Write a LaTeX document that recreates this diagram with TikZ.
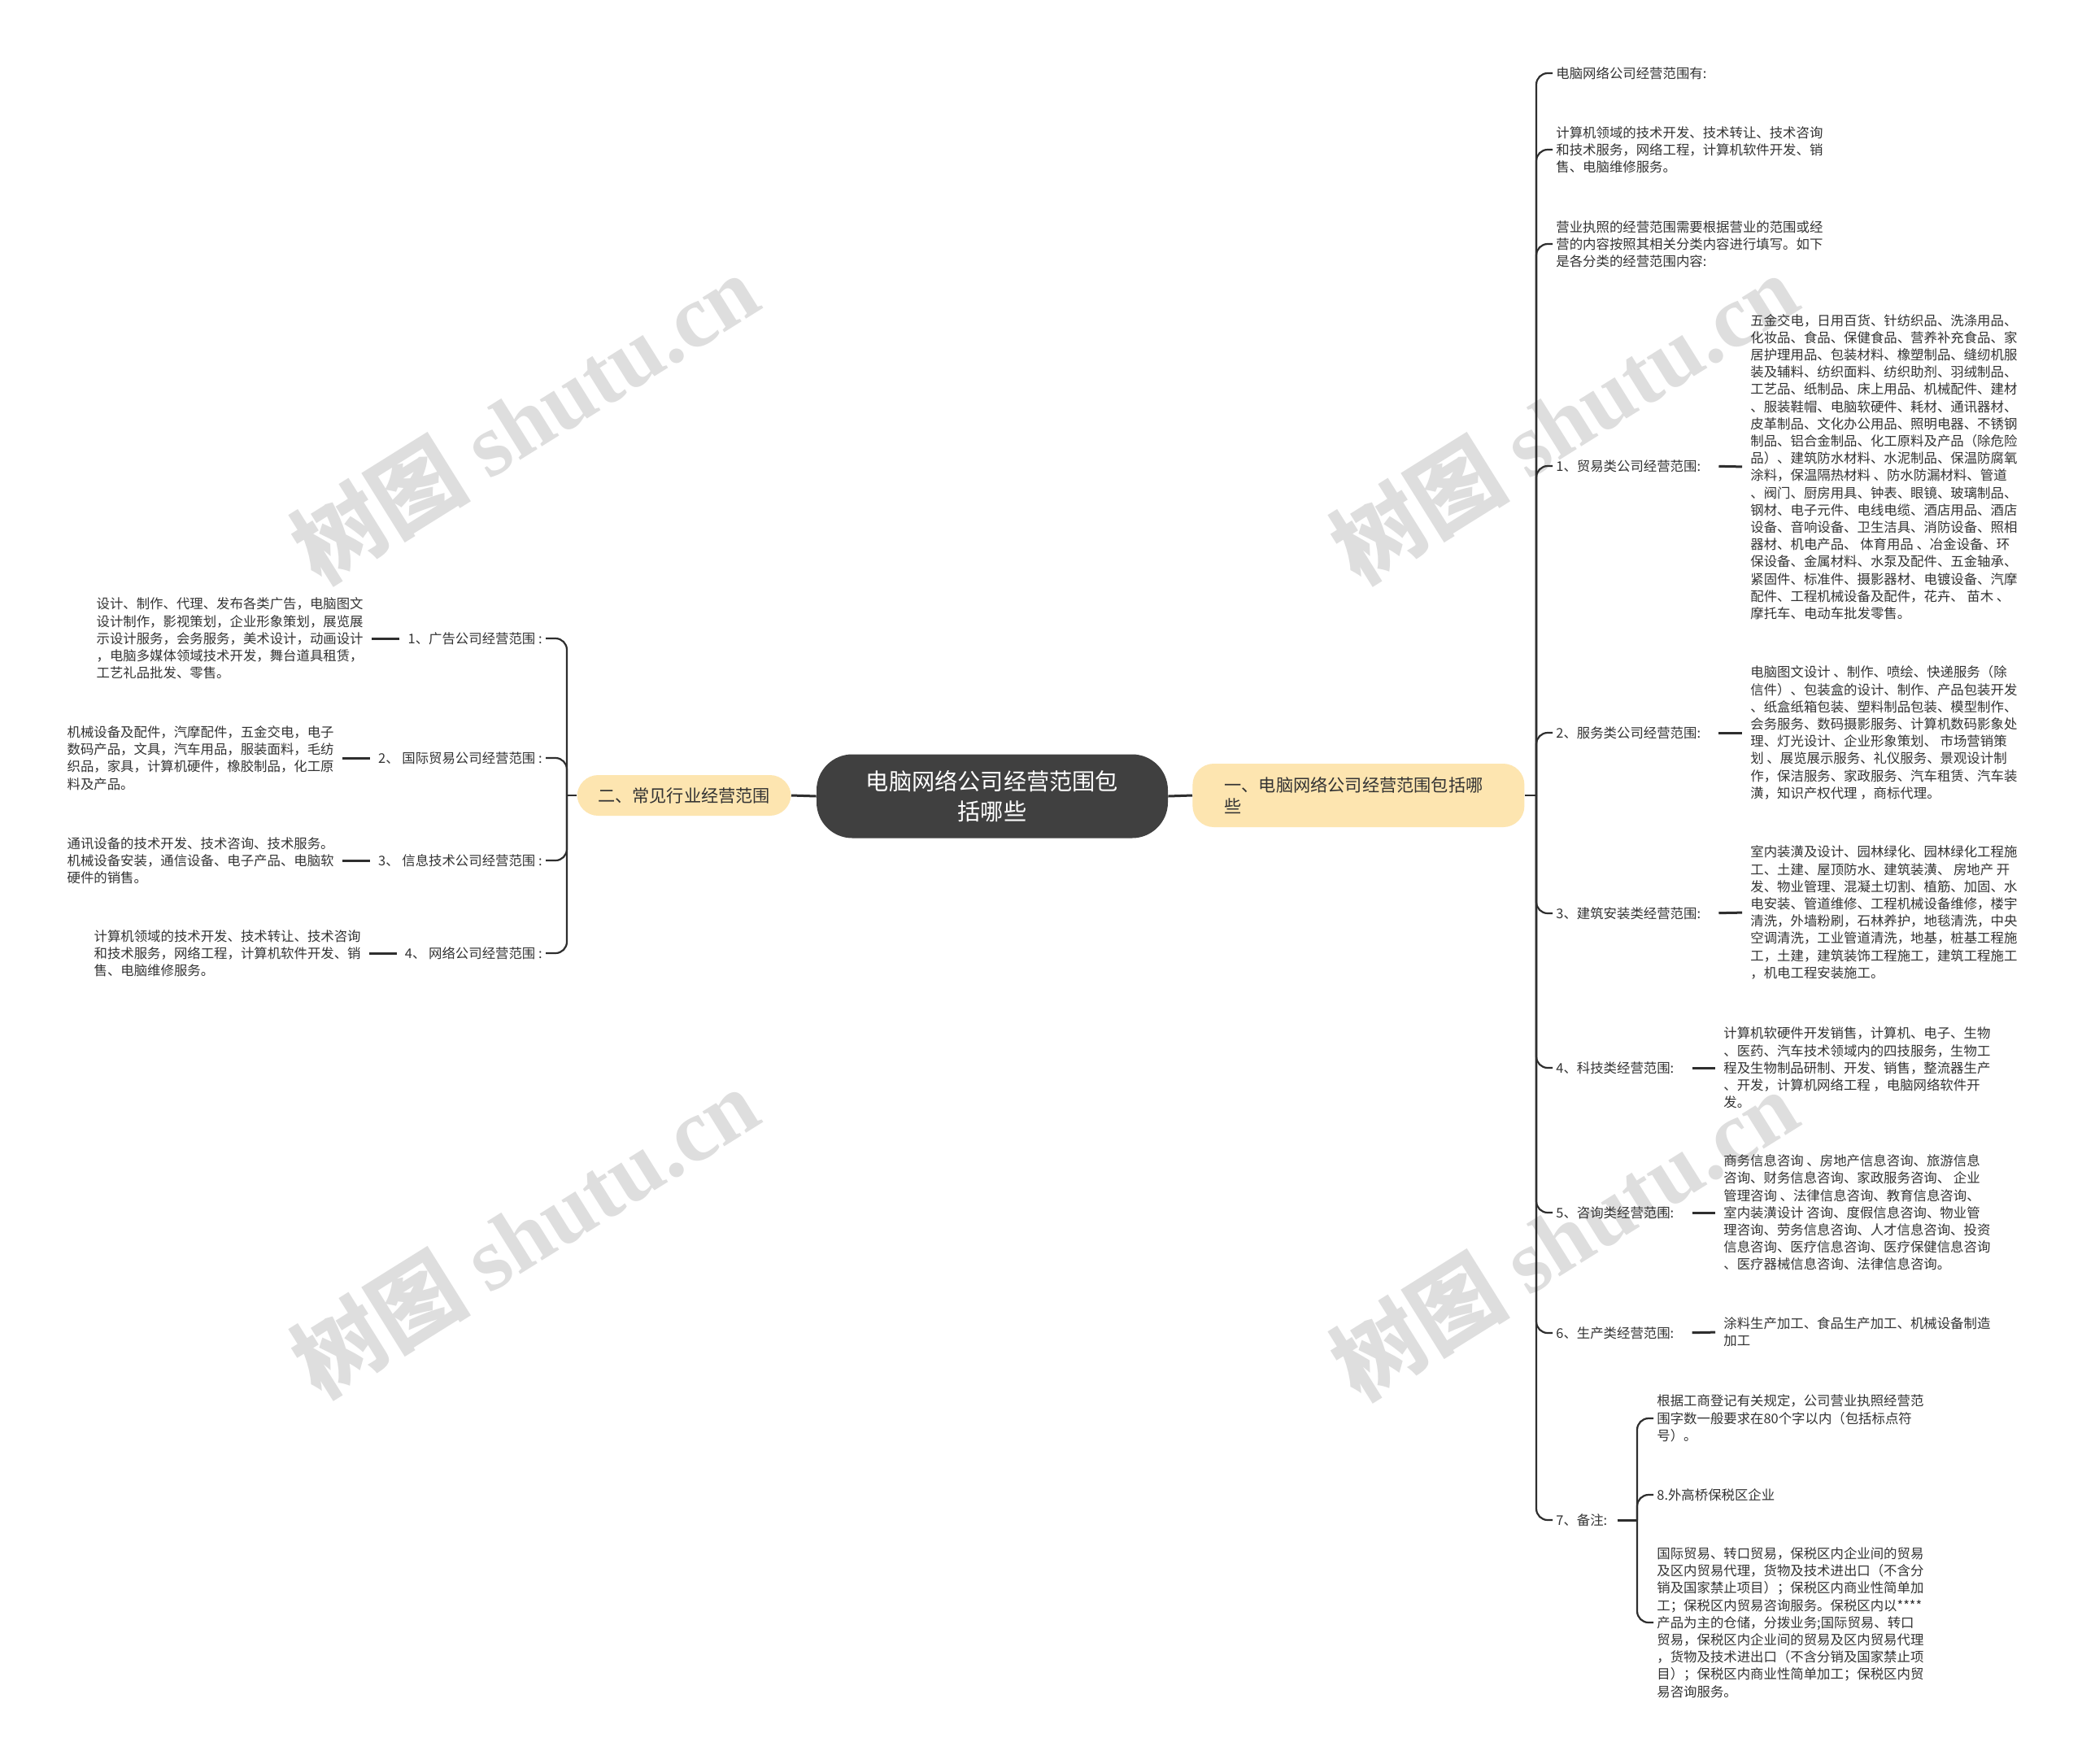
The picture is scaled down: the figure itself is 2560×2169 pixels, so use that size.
\documentclass[tikz,border=0pt]{standalone}
\usepackage{fontspec}
\setmainfont{Noto Sans CJK SC}
\newfontfamily\markfont{Liberation Serif}
\usepackage{xcolor}
\definecolor{mapink}{HTML}{333333}
\definecolor{maphub}{HTML}{404040}
\definecolor{maptopic}{HTML}{FDE5B0}
\definecolor{mapline}{HTML}{2E2E2E}
\definecolor{mapmark}{HTML}{DEDEDE}

\begin{document}
\begin{tikzpicture}[
  x=0.5pt,
  y=-0.5pt,
  every node/.style={font=\fontsize{8.2pt}{10.6pt}\selectfont, text=mapink},
  hub/.style={fill=maphub, text=white, rounded corners=22pt, minimum width=216pt,
    minimum height=51.5pt, align=center, font=\fontsize{14.1pt}{18.8pt}\selectfont},
  topic/.style={fill=maptopic, rounded corners=13pt, align=left,
    font=\fontsize{10.6pt}{13pt}\selectfont},
  item/.style={inner xsep=2pt, inner ysep=1pt},
  detail/.style={inner xsep=2pt, inner ysep=1pt, align=left},
  branch/.style={draw=mapline, line width=1.1pt, rounded corners=7pt},
  tie/.style={draw=mapline, line width=1.5pt},
  wmark/.style={rotate=32, text=mapmark, font=\fontsize{55pt}{60pt}\selectfont\bfseries}
]
  \useasboundingbox (0,0) rectangle (2560,2169);
  \fill[white] (0,0) rectangle (2560,2169);

  % watermark
  \foreach \wx/\wy in {645/514, 1923/514, 645/1515, 1923/1518}
    \node[wmark] at (\wx,\wy) {树图 {\markfont shutu.cn}};

  \node[hub] (hub) at (1220,979) {电脑网络公司经营范围包\\括哪些};
  \node[topic, anchor=west, minimum width=204pt, minimum height=39pt, text width=165pt,
    inner xsep=19.5pt] (topicR) at (1466,978) {一、电脑网络公司经营范围包括哪\\些};
  \node[topic, anchor=east, minimum height=25pt, inner xsep=12.75pt] (topicL) at (973,978)
    {二、常见行业经营范围};

  \draw[tie] (hub.east) -- (topicR.west);
  \draw[tie] (hub.west) -- (topicL.east);

  % right branch
  \coordinate (rspine) at (1889,978);
  \draw[branch] (topicR.east) -- (rspine);

  \node[item, anchor=west] (r0) at (1909,90) {电脑网络公司经营范围有:};
  \node[detail, anchor=west] (r1) at (1909,184) {计算机领域的技术开发、技术转让、技术咨询\\和技术服务，网络工程，计算机软件开发、销\\售、电脑维修服务。};
  \node[detail, anchor=west] (r2) at (1909,300) {营业执照的经营范围需要根据营业的范围或经\\营的内容按照其相关分类内容进行填写。如下\\是各分类的经营范围内容:};
  \node[item, anchor=west] (r3) at (1909,573) {1、贸易类公司经营范围:};
  \node[item, anchor=west] (r4) at (1909,901) {2、服务类公司经营范围:};
  \node[item, anchor=west] (r5) at (1909,1123) {3、建筑安装类经营范围:};
  \node[item, anchor=west] (r6) at (1909,1313) {4、科技类经营范围:};
  \node[item, anchor=west] (r7) at (1909,1491) {5、咨询类经营范围:};
  \node[item, anchor=west] (r8) at (1909,1639) {6、生产类经营范围:};
  \node[item, anchor=west] (r9) at (1909,1869) {7、备注:};

  \foreach \i in {0,...,9}
    \draw[branch] (rspine) |- (r\i.west);

  \node[detail, anchor=west] (d3) at (2148,574) {五金交电，日用百货、针纺织品、洗涤用品、\\化妆品、食品、保健食品、营养补充食品、家\\居护理用品、包装材料、橡塑制品、缝纫机服\\装及辅料、纺织面料、纺织助剂、羽绒制品、\\工艺品、纸制品、床上用品、机械配件、建材\\、服装鞋帽、电脑软硬件、耗材、通讯器材、\\皮革制品、文化办公用品、照明电器、不锈钢\\制品、铝合金制品、化工原料及产品（除危险\\品）、建筑防水材料、水泥制品、保温防腐氧\\涂料，保温隔热材料 、防水防漏材料、管道\\、阀门、厨房用具、钟表、眼镜、玻璃制品、\\钢材、电子元件、电线电缆、酒店用品、酒店\\设备、音响设备、卫生洁具、消防设备、照相\\器材、机电产品、 体育用品 、冶金设备、环\\保设备、金属材料、水泵及配件、五金轴承、\\紧固件、标准件、摄影器材、电镀设备、汽摩\\配件、工程机械设备及配件，花卉、 苗木 、\\摩托车、电动车批发零售。};
  \node[detail, anchor=west] (d4) at (2148,901) {电脑图文设计 、制作、喷绘、快递服务（除\\信件）、包装盒的设计、制作、产品包装开发\\、纸盒纸箱包装、塑料制品包装、模型制作、\\会务服务、数码摄影服务、计算机数码影象处\\理、灯光设计、企业形象策划、 市场营销策\\划 、展览展示服务、礼仪服务、景观设计制\\作，保洁服务、家政服务、汽车租赁、汽车装\\潢，知识产权代理 ，商标代理。};
  \node[detail, anchor=west] (d5) at (2148,1122) {室内装潢及设计、园林绿化、园林绿化工程施\\工、土建、屋顶防水、建筑装潢、 房地产 开\\发、物业管理、混凝土切割、植筋、加固、水\\电安装、管道维修、工程机械设备维修，楼宇\\清洗，外墙粉刷，石林养护，地毯清洗，中央\\空调清洗，工业管道清洗，地基，桩基工程施\\工，土建，建筑装饰工程施工，建筑工程施工\\，机电工程安装施工。};
  \node[detail, anchor=west] (d6) at (2115,1313) {计算机软硬件开发销售，计算机、电子、生物\\、医药、汽车技术领域内的四技服务，生物工\\程及生物制品研制、开发、销售，整流器生产\\、开发，计算机网络工程 ，电脑网络软件开\\发。};
  \node[detail, anchor=west] (d7) at (2115,1491) {商务信息咨询 、房地产信息咨询、旅游信息\\咨询、财务信息咨询、家政服务咨询、 企业\\管理咨询 、法律信息咨询、教育信息咨询、\\室内装潢设计 咨询、度假信息咨询、物业管\\理咨询、劳务信息咨询、人才信息咨询、投资\\信息咨询、医疗信息咨询、医疗保健信息咨询\\、医疗器械信息咨询、法律信息咨询。};
  \node[detail, anchor=west] (d8) at (2115,1638) {涂料生产加工、食品生产加工、机械设备制造\\加工};

  \foreach \i in {3,...,8}
    \draw[tie, shorten <=9pt, shorten >=3pt] (r\i.east) -- (d\i.west);

  % notes under 7
  \coordinate (nspine) at (2013,1869);
  \draw[tie, shorten <=4pt] (r9.east) -- (nspine);
  \node[detail, anchor=west] (n1) at (2033,1744) {根据工商登记有关规定，公司营业执照经营范\\围字数一般要求在80个字以内（包括标点符\\号）。};
  \node[item, anchor=west] (n2) at (2033,1838) {8.外高桥保税区企业};
  \node[detail, anchor=west] (n3) at (2033,1995) {国际贸易、转口贸易，保税区内企业间的贸易\\及区内贸易代理，货物及技术进出口（不含分\\销及国家禁止项目）；保税区内商业性简单加\\工；保税区内贸易咨询服务。保税区内以****\\产品为主的仓储，分拨业务;国际贸易、转口\\贸易，保税区内企业间的贸易及区内贸易代理\\，货物及技术进出口（不含分销及国家禁止项\\目）；保税区内商业性简单加工；保税区内贸\\易咨询服务。};
  \foreach \i in {1,2,3}
    \draw[branch] (nspine) |- (n\i.west);

  % left branch
  \coordinate (lspine) at (697,978);
  \draw[branch] (topicL.west) -- (lspine);

  \node[item, anchor=east] (l1) at (671,785) {1、广告公司经营范围 :};
  \node[item, anchor=east] (l2) at (671,932) {2、 国际贸易公司经营范围 :};
  \node[item, anchor=east] (l3) at (671,1058) {3、 信息技术公司经营范围 :};
  \node[item, anchor=east] (l4) at (671,1172) {4、 网络公司经营范围 :};

  \foreach \i in {1,...,4}
    \draw[branch] (lspine) |- (l\i.east);

  \node[detail, anchor=east] (ld1) at (451,785) {设计、制作、代理、发布各类广告，电脑图文\\设计制作，影视策划，企业形象策划，展览展\\示设计服务，会务服务，美术设计，动画设计\\，电脑多媒体领域技术开发，舞台道具租赁，\\工艺礼品批发、零售。};
  \node[detail, anchor=east] (ld2) at (415,932) {机械设备及配件，汽摩配件，五金交电，电子\\数码产品，文具，汽车用品，服装面料，毛纺\\织品，家具，计算机硬件，橡胶制品，化工原\\料及产品。};
  \node[detail, anchor=east] (ld3) at (415,1058) {通讯设备的技术开发、技术咨询、技术服务。\\机械设备安装，通信设备、电子产品、电脑软\\硬件的销售。};
  \node[detail, anchor=east] (ld4) at (448,1172) {计算机领域的技术开发、技术转让、技术咨询\\和技术服务，网络工程，计算机软件开发、销\\售、电脑维修服务。};

  \foreach \i in {1,...,4}
    \draw[tie, shorten <=3pt, shorten >=3pt] (l\i.west) -- (ld\i.east);
\end{tikzpicture}
\end{document}
